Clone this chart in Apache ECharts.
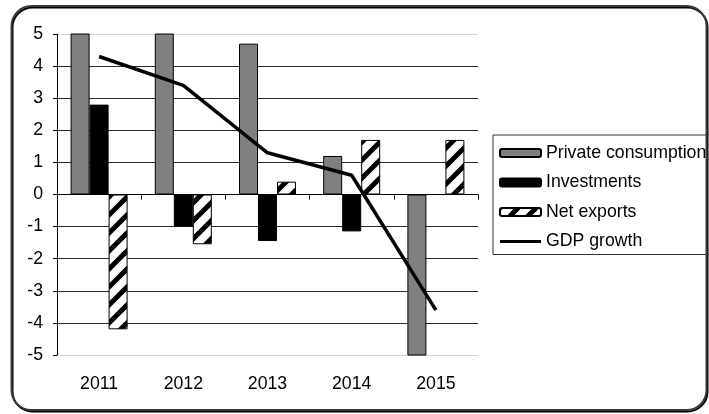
<!DOCTYPE html>
<html>
<head>
<meta charset="utf-8">
<script src="https://cdn.jsdelivr.net/npm/echarts@6/dist/echarts.min.js"></script>
<style>
  html, body { margin: 0; padding: 0; background: #fff; }
  #chart { width: 709px; height: 414px; }
</style>
</head>
<body>
<div id="chart"></div>
<script>
// Contributions to GDP growth, percentage points
const years = ['2011', '2012', '2013', '2014', '2015'];
const privateConsumption = [5.7, 5.5, 4.7, 1.2, -6.0];
const investments = [2.8, -1.0, -1.45, -1.15, 0];
const netExports = [-4.2, -1.55, 0.4, 1.7, 1.7];
const gdpGrowth = [4.3, 3.4, 1.3, 0.6, -3.6];
const yTicks = [-5, -4, -3, -2, -1, 0, 1, 2, 3, 4, 5];

// Diagonal hatch tile for the net exports bars
function hatchPattern() {
  const s = 18;
  const c = document.createElement('canvas');
  c.width = s; c.height = s;
  const g = c.getContext('2d');
  g.fillStyle = '#fff';
  g.fillRect(0, 0, s, s);
  g.strokeStyle = '#000';
  g.lineWidth = 5;
  [[0, s, s, 0], [-s / 2, s / 2, s / 2, -s / 2], [s / 2, s * 1.5, s * 1.5, s / 2]].forEach(l => {
    g.beginPath(); g.moveTo(l[0], l[1]); g.lineTo(l[2], l[3]); g.stroke();
  });
  return { image: c, repeat: 'repeat' };
}

const font = "'Liberation Sans', Arial, sans-serif";
const fs = 17.7;
const gridColors = yTicks.map((v, i) => (i === 0 || i === yTicks.length - 1) ? '#d4d4d4' : '#2a2a2a');
// thick horizontal stroke as the legend key of the growth line
const lineIcon = 'path://M0,0 L0,0 M0,2.5 L43,2.5 L43,5.5 L0,5.5 Z M0,8 L0,8';

const chart = echarts.init(document.getElementById('chart'), null, { renderer: 'canvas' });
chart.setOption({
  animation: false,
  backgroundColor: '#fff',
  textStyle: { fontFamily: font },
  graphic: [{
    type: 'rect',
    shape: { x: 11.5, y: 6, width: 695, height: 404, r: 20 },
    style: { fill: 'none', stroke: '#3a3a3a', lineWidth: 2, shadowColor: '#000', shadowOffsetX: 1, shadowOffsetY: 1.5, shadowBlur: 0 },
    z: 0, silent: true
  }],
  grid: { left: 57, right: 231, top: 34, bottom: 59 },
  legend: {
    orient: 'vertical',
    left: 493, top: 135,
    padding: [8, 30, 3, 6],
    itemGap: 9.5,
    itemWidth: 41, itemHeight: 8,
    borderColor: '#333', borderWidth: 1,
    textStyle: { fontSize: fs, color: '#000', fontFamily: font, lineHeight: 20 },
    data: [
      { name: 'Private consumption' },
      { name: 'Investments' },
      { name: 'Net exports' },
      { name: 'GDP growth', icon: lineIcon, itemStyle: { color: '#000', borderWidth: 0 } }
    ]
  },
  xAxis: [{
    type: 'category', data: years, position: 'bottom',
    axisLine: { onZero: true, lineStyle: { color: '#000', width: 1 } },
    axisTick: { show: true, length: 5, lineStyle: { color: '#000' } },
    axisLabel: { show: false }
  }, {
    type: 'category', data: years, position: 'bottom',
    axisLine: { show: false, onZero: false },
    axisTick: { show: false },
    axisLabel: { show: true, fontSize: fs, color: '#000', fontFamily: font, margin: 20 }
  }],
  yAxis: {
    type: 'value', min: -5, max: 5, interval: 1,
    axisLine: { show: true, lineStyle: { color: '#000', width: 1 } },
    axisTick: { show: true, length: 4, lineStyle: { color: '#000' } },
    axisLabel: { fontSize: fs, color: '#000', fontFamily: font, margin: 14 },
    splitLine: { show: true, lineStyle: { color: gridColors, width: 1 } }
  },
  series: [{
    name: 'Private consumption', type: 'bar', data: privateConsumption,
    barWidth: 19, barGap: '0%', clip: true,
    itemStyle: { color: '#808080', borderColor: '#000', borderWidth: 1 }
  }, {
    name: 'Investments', type: 'bar', data: investments,
    barWidth: 19, barGap: '0%', clip: true,
    itemStyle: { color: '#000', borderColor: '#000', borderWidth: 1 }
  }, {
    name: 'Net exports', type: 'bar', data: netExports,
    barWidth: 19, barGap: '0%', clip: true,
    itemStyle: { color: hatchPattern(), borderColor: '#000', borderWidth: 1 }
  }, {
    name: 'GDP growth', type: 'line', data: gdpGrowth,
    symbol: 'none', showSymbol: false, z: 5,
    lineStyle: { color: '#000', width: 3.5 },
    itemStyle: { color: '#000' }
  }]
});
</script>
</body>
</html>
